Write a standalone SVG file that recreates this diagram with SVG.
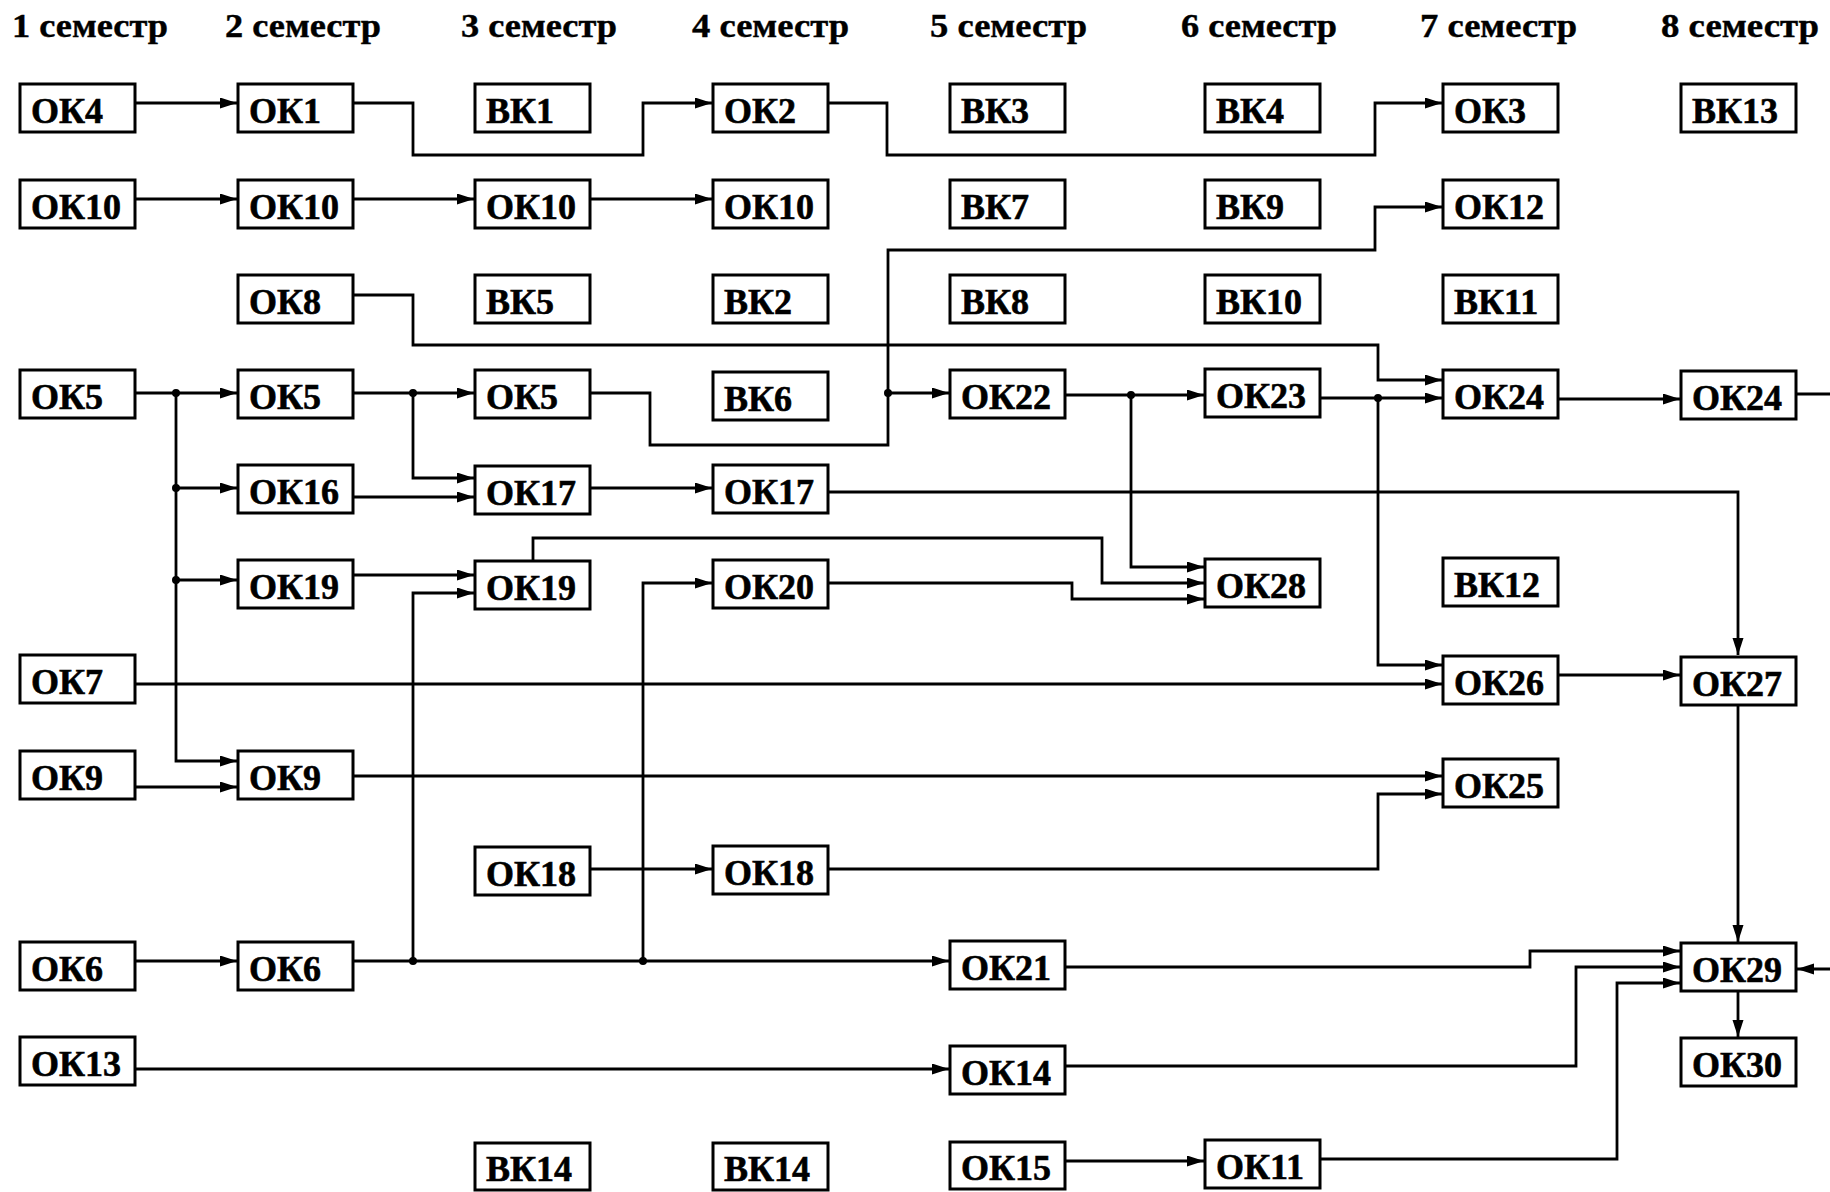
<svg xmlns="http://www.w3.org/2000/svg" width="1830" height="1192" viewBox="0 0 1830 1192">
<defs>
<marker id="ah" markerUnits="userSpaceOnUse" markerWidth="18" markerHeight="12" refX="17" refY="5.5" orient="auto">
<path d="M0,0 L17,5.5 L0,11 z" fill="#000"/>
</marker>
<style>
.b rect{fill:#fff;stroke:#000;stroke-width:3}
.b text{font-family:"Liberation Serif","Times New Roman",serif;font-weight:bold;font-size:36px;fill:#000;stroke:#000;stroke-width:0.6}
.h{font-family:"Liberation Serif","Times New Roman",serif;font-weight:bold;font-size:33px;fill:#000;stroke:#000;stroke-width:0.4}
.c path{fill:none;stroke:#000;stroke-width:2.8}
.c path.a{marker-end:url(#ah)}
.c circle{fill:#000}
</style>
</defs>
<rect width="1830" height="1192" fill="#fff"/>
<g id="headers">
<text class="h" x="12" y="37" textLength="156" lengthAdjust="spacingAndGlyphs">1 семестр</text>
<text class="h" x="225" y="37" textLength="156" lengthAdjust="spacingAndGlyphs">2 семестр</text>
<text class="h" x="461" y="37" textLength="156" lengthAdjust="spacingAndGlyphs">3 семестр</text>
<text class="h" x="692" y="37" textLength="157" lengthAdjust="spacingAndGlyphs">4 семестр</text>
<text class="h" x="930" y="37" textLength="157" lengthAdjust="spacingAndGlyphs">5 семестр</text>
<text class="h" x="1181" y="37" textLength="156" lengthAdjust="spacingAndGlyphs">6 семестр</text>
<text class="h" x="1420" y="37" textLength="157" lengthAdjust="spacingAndGlyphs">7 семестр</text>
<text class="h" x="1661" y="37" textLength="158" lengthAdjust="spacingAndGlyphs">8 семестр</text>
</g>
<g id="connectors" class="c">
<path class="a" d="M134,103 H237"/>
<path class="a" d="M353,103 H413 V155 H643 V103 H712"/>
<path class="a" d="M828,103 H887 V155 H1375 V103 H1442"/>
<path class="a" d="M134,199 H237"/>
<path class="a" d="M353,199 H474"/>
<path class="a" d="M590,199 H712"/>
<path class="a" d="M353,295 H413 V345 H1378 V380 H1442"/>
<path class="a" d="M134,393 H237"/>
<path class="a" d="M176,393 V761 H237"/>
<path class="a" d="M176,488 H237"/>
<path class="a" d="M176,580 H237"/>
<path class="a" d="M353,393 H474"/>
<path class="a" d="M413,393 V478 H474"/>
<path class="a" d="M353,497 H474"/>
<path class="a" d="M590,488 H712"/>
<path class="a" d="M828,492 H1738 V655"/>
<path class="a" d="M353,575 H474"/>
<path class="a" d="M413,961 V593 H474"/>
<path class="a" d="M533,560 V538 H1102 V583 H1204"/>
<path class="a" d="M590,393 H650 V445 H888 V393 H949"/>
<path class="a" d="M888,393 V250 H1375 V207 H1442"/>
<path class="a" d="M1064,395 H1204"/>
<path class="a" d="M1131,395 V567 H1204"/>
<path class="a" d="M828,583 H1072 V599 H1204"/>
<path class="a" d="M643,961 V583 H712"/>
<path class="a" d="M1320,398 H1442"/>
<path class="a" d="M1378,398 V665 H1442"/>
<path class="a" d="M1558,399 H1680"/>
<path d="M1796,394 H1830"/>
<path class="a" d="M134,684 H1442"/>
<path class="a" d="M1558,675 H1680"/>
<path class="a" d="M134,787 H237"/>
<path class="a" d="M353,776 H1442"/>
<path class="a" d="M590,869 H712"/>
<path class="a" d="M828,869 H1378 V794 H1442"/>
<path class="a" d="M1738,706 V942"/>
<path class="a" d="M134,961 H237"/>
<path class="a" d="M353,961 H949"/>
<path class="a" d="M1064,967 H1530 V951 H1680"/>
<path class="a" d="M134,1069 H949"/>
<path class="a" d="M1064,1066 H1576 V967 H1680"/>
<path class="a" d="M1064,1161 H1204"/>
<path class="a" d="M1320,1159 H1617 V983 H1680"/>
<path class="a" d="M1738,991 V1037"/>
<path class="a" d="M1830,969 H1797"/>
<circle cx="176" cy="393" r="4"/>
<circle cx="176" cy="488" r="4"/>
<circle cx="176" cy="580" r="4"/>
<circle cx="413" cy="393" r="4"/>
<circle cx="888" cy="393" r="4"/>
<circle cx="1131" cy="395" r="4"/>
<circle cx="1378" cy="398" r="4"/>
<circle cx="413" cy="961" r="4"/>
<circle cx="643" cy="961" r="4"/>
</g>
<g id="nodes">
<g id="n_r1c1" class="b"><rect x="20" y="84" width="115" height="48"/><text x="31" y="123">ОК4</text></g>
<g id="n_r1c2" class="b"><rect x="238" y="84" width="115" height="48"/><text x="249" y="123">ОК1</text></g>
<g id="n_r1c3" class="b"><rect x="475" y="84" width="115" height="48"/><text x="486" y="123">ВК1</text></g>
<g id="n_r1c4" class="b"><rect x="713" y="84" width="115" height="48"/><text x="724" y="123">ОК2</text></g>
<g id="n_r1c5" class="b"><rect x="950" y="84" width="115" height="48"/><text x="961" y="123">ВК3</text></g>
<g id="n_r1c6" class="b"><rect x="1205" y="84" width="115" height="48"/><text x="1216" y="123">ВК4</text></g>
<g id="n_r1c7" class="b"><rect x="1443" y="84" width="115" height="48"/><text x="1454" y="123">ОК3</text></g>
<g id="n_r1c8" class="b"><rect x="1681" y="84" width="115" height="48"/><text x="1692" y="123">ВК13</text></g>
<g id="n_r2c1" class="b"><rect x="20" y="180" width="115" height="48"/><text x="31" y="219">ОК10</text></g>
<g id="n_r2c2" class="b"><rect x="238" y="180" width="115" height="48"/><text x="249" y="219">ОК10</text></g>
<g id="n_r2c3" class="b"><rect x="475" y="180" width="115" height="48"/><text x="486" y="219">ОК10</text></g>
<g id="n_r2c4" class="b"><rect x="713" y="180" width="115" height="48"/><text x="724" y="219">ОК10</text></g>
<g id="n_r2c5" class="b"><rect x="950" y="180" width="115" height="48"/><text x="961" y="219">ВК7</text></g>
<g id="n_r2c6" class="b"><rect x="1205" y="180" width="115" height="48"/><text x="1216" y="219">ВК9</text></g>
<g id="n_r2c7" class="b"><rect x="1443" y="180" width="115" height="48"/><text x="1454" y="219">ОК12</text></g>
<g id="n_r3c2" class="b"><rect x="238" y="275" width="115" height="48"/><text x="249" y="314">ОК8</text></g>
<g id="n_r3c3" class="b"><rect x="475" y="275" width="115" height="48"/><text x="486" y="314">ВК5</text></g>
<g id="n_r3c4" class="b"><rect x="713" y="275" width="115" height="48"/><text x="724" y="314">ВК2</text></g>
<g id="n_r3c5" class="b"><rect x="950" y="275" width="115" height="48"/><text x="961" y="314">ВК8</text></g>
<g id="n_r3c6" class="b"><rect x="1205" y="275" width="115" height="48"/><text x="1216" y="314">ВК10</text></g>
<g id="n_r3c7" class="b"><rect x="1443" y="275" width="115" height="48"/><text x="1454" y="314">ВК11</text></g>
<g id="n_r4c1" class="b"><rect x="20" y="370" width="115" height="48"/><text x="31" y="409">ОК5</text></g>
<g id="n_r4c2" class="b"><rect x="238" y="370" width="115" height="48"/><text x="249" y="409">ОК5</text></g>
<g id="n_r4c3" class="b"><rect x="475" y="370" width="115" height="48"/><text x="486" y="409">ОК5</text></g>
<g id="n_r4c4" class="b"><rect x="713" y="372" width="115" height="48"/><text x="724" y="411">ВК6</text></g>
<g id="n_r4c5" class="b"><rect x="950" y="370" width="115" height="48"/><text x="961" y="409">ОК22</text></g>
<g id="n_r4c6" class="b"><rect x="1205" y="369" width="115" height="48"/><text x="1216" y="408">ОК23</text></g>
<g id="n_r4c7" class="b"><rect x="1443" y="370" width="115" height="48"/><text x="1454" y="409">ОК24</text></g>
<g id="n_r4c8" class="b"><rect x="1681" y="371" width="115" height="48"/><text x="1692" y="410">ОК24</text></g>
<g id="n_r5c2" class="b"><rect x="238" y="465" width="115" height="48"/><text x="249" y="504">ОК16</text></g>
<g id="n_r5c3" class="b"><rect x="475" y="466" width="115" height="48"/><text x="486" y="505">ОК17</text></g>
<g id="n_r5c4" class="b"><rect x="713" y="465" width="115" height="48"/><text x="724" y="504">ОК17</text></g>
<g id="n_r6c2" class="b"><rect x="238" y="560" width="115" height="48"/><text x="249" y="599">ОК19</text></g>
<g id="n_r6c3" class="b"><rect x="475" y="561" width="115" height="48"/><text x="486" y="600">ОК19</text></g>
<g id="n_r6c4" class="b"><rect x="713" y="560" width="115" height="48"/><text x="724" y="599">ОК20</text></g>
<g id="n_r6c6" class="b"><rect x="1205" y="559" width="115" height="48"/><text x="1216" y="598">ОК28</text></g>
<g id="n_r6c7" class="b"><rect x="1443" y="558" width="115" height="48"/><text x="1454" y="597">ВК12</text></g>
<g id="n_r7c1" class="b"><rect x="20" y="655" width="115" height="48"/><text x="31" y="694">ОК7</text></g>
<g id="n_r7c7" class="b"><rect x="1443" y="656" width="115" height="48"/><text x="1454" y="695">ОК26</text></g>
<g id="n_r7c8" class="b"><rect x="1681" y="657" width="115" height="48"/><text x="1692" y="696">ОК27</text></g>
<g id="n_r8c1" class="b"><rect x="20" y="751" width="115" height="48"/><text x="31" y="790">ОК9</text></g>
<g id="n_r8c2" class="b"><rect x="238" y="751" width="115" height="48"/><text x="249" y="790">ОК9</text></g>
<g id="n_r8c7" class="b"><rect x="1443" y="759" width="115" height="48"/><text x="1454" y="798">ОК25</text></g>
<g id="n_r9c3" class="b"><rect x="475" y="847" width="115" height="48"/><text x="486" y="886">ОК18</text></g>
<g id="n_r9c4" class="b"><rect x="713" y="846" width="115" height="48"/><text x="724" y="885">ОК18</text></g>
<g id="n_r10c1" class="b"><rect x="20" y="942" width="115" height="48"/><text x="31" y="981">ОК6</text></g>
<g id="n_r10c2" class="b"><rect x="238" y="942" width="115" height="48"/><text x="249" y="981">ОК6</text></g>
<g id="n_r10c5" class="b"><rect x="950" y="941" width="115" height="48"/><text x="961" y="980">ОК21</text></g>
<g id="n_r10c8" class="b"><rect x="1681" y="943" width="115" height="48"/><text x="1692" y="982">ОК29</text></g>
<g id="n_r11c1" class="b"><rect x="20" y="1037" width="115" height="48"/><text x="31" y="1076">ОК13</text></g>
<g id="n_r11c5" class="b"><rect x="950" y="1046" width="115" height="48"/><text x="961" y="1085">ОК14</text></g>
<g id="n_r11c8" class="b"><rect x="1681" y="1038" width="115" height="48"/><text x="1692" y="1077">ОК30</text></g>
<g id="n_r12c3" class="b"><rect x="475" y="1143" width="115" height="47"/><text x="486" y="1181">ВК14</text></g>
<g id="n_r12c4" class="b"><rect x="713" y="1143" width="115" height="47"/><text x="724" y="1181">ВК14</text></g>
<g id="n_r12c5" class="b"><rect x="950" y="1142" width="115" height="47"/><text x="961" y="1180">ОК15</text></g>
<g id="n_r12c6" class="b"><rect x="1205" y="1140" width="115" height="48"/><text x="1216" y="1179">ОК11</text></g>
</g>
</svg>
